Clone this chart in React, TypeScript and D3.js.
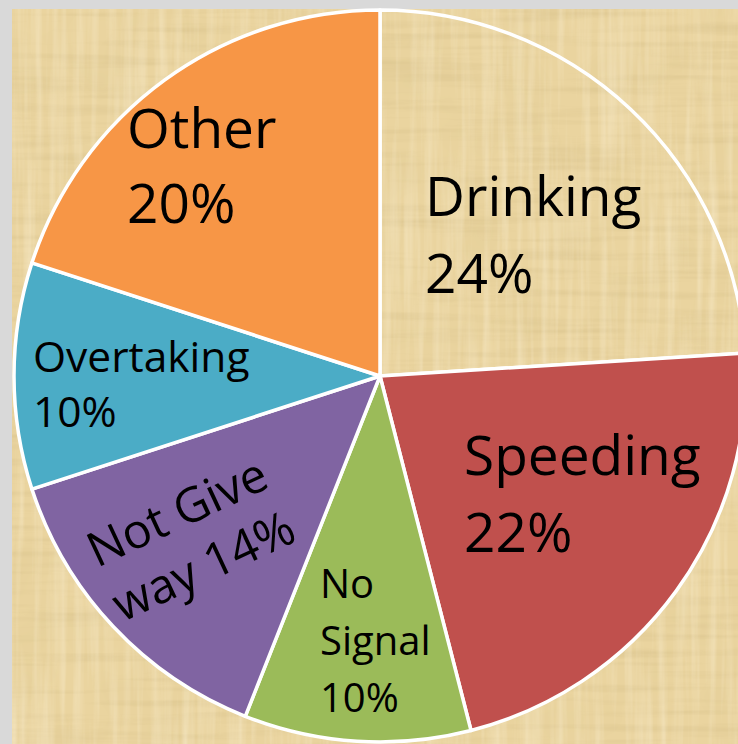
import React from 'react';
import * as d3 from 'd3';

// ---- data ----
const categories = ['Drinking', 'Speeding', 'No Signal', 'Not Give way', 'Overtaking', 'Other'];
const values = [24, 22, 10, 14, 10, 20];
const colors = ['none', '#C0504D', '#9BBB59', '#8064A2', '#4BACC6', '#F79646'];
// how many words go on each label line (label = "category value%")
const lineBreaks = [[1, 1], [1, 1], [1, 1, 1], [2, 2], [1, 1], [1, 1]];

// ---- layout ----
const W = 738;
const H = 744;
const CX = 380;
const CY = 376;
const R = 366;
const labelLayout = [
  { x: 425, y: 216, size: 55, lh: 77, rot: 0 },
  { x: 464, y: 475, size: 55, lh: 77, rot: 0 },
  { x: 320, y: 598, size: 40, lh: 57, rot: 0 },
  { x: 97, y: 568, size: 48, lh: 60, rot: -25 },
  { x: 33, y: 372, size: 42.5, lh: 55, rot: 0 },
  { x: 127, y: 148, size: 55, lh: 75, rot: 0 },
];

function labelLines(i: number): string[] {
  const words = `${categories[i]} ${values[i]}%`.split(' ');
  const out: string[] = [];
  let k = 0;
  for (const n of lineBreaks[i]) {
    out.push(words.slice(k, k + n).join(' '));
    k += n;
  }
  return out;
}

export default function App() {
  const arcs = d3.pie<number>().sort(null).value((d) => d)(values);
  const arcGen = d3.arc<d3.PieArcDatum<number>>().innerRadius(0).outerRadius(R);

  return (
    <svg
      width={W}
      height={H}
      style={{ position: 'absolute', left: 0, top: 0, display: 'block' }}
      fontFamily="'Open Sans', sans-serif"
    >
      <defs>
        <filter id="fibH" x="0" y="0" width="100%" height="100%">
          <feTurbulence type="fractalNoise" baseFrequency="0.006 0.12" numOctaves="3" seed="4" result="n" />
          <feColorMatrix
            in="n"
            type="matrix"
            values="0 0 0 0 0.62  0 0 0 0 0.48  0 0 0 0 0.22  0.8 0 0 0 -0.36"
          />
        </filter>
        <filter id="fibV" x="0" y="0" width="100%" height="100%">
          <feTurbulence type="fractalNoise" baseFrequency="0.12 0.006" numOctaves="3" seed="9" result="n" />
          <feColorMatrix
            in="n"
            type="matrix"
            values="0 0 0 0 1  0 0 0 0 0.93  0 0 0 0 0.76  -0.7 0 0 0 0.42"
          />
        </filter>
        <filter id="blot" x="0" y="0" width="100%" height="100%">
          <feTurbulence type="fractalNoise" baseFrequency="0.02 0.02" numOctaves="2" seed="2" result="n" />
          <feColorMatrix
            in="n"
            type="matrix"
            values="0 0 0 0 0.75  0 0 0 0 0.6  0 0 0 0 0.3  0.9 0 0 0 -0.38"
          />
        </filter>
      </defs>
      <rect x={0} y={0} width={W} height={H} fill="#D9D9D9" />
      <g>
        <rect x={12} y={9} width={W - 12} height={H - 9} fill="#EAD49F" />
        <rect x={12} y={9} width={W - 12} height={H - 9} filter="url(#blot)" />
        <rect x={12} y={9} width={W - 12} height={H - 9} filter="url(#fibH)" />
        <rect x={12} y={9} width={W - 12} height={H - 9} filter="url(#fibV)" />
      </g>
      <g transform={`translate(${CX},${CY})`}>
        {arcs.map((a, i) => (
          <path
            key={categories[i]}
            d={arcGen(a) || ''}
            fill={colors[i]}
            stroke="#FFFFFF"
            strokeWidth={3.5}
            strokeLinejoin="round"
          />
        ))}
      </g>
      {labelLayout.map((l, i) => (
        <g key={'lab' + i} transform={`translate(${l.x},${l.y}) rotate(${l.rot})`}>
          <text fontSize={l.size} fill="#000">
            {labelLines(i).map((line, j) => (
              <tspan key={j} x={0} y={j * l.lh}>
                {line}
              </tspan>
            ))}
          </text>
        </g>
      ))}
    </svg>
  );
}
